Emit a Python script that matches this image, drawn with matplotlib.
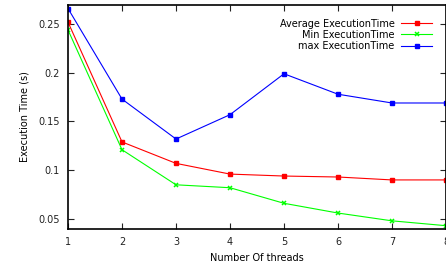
import matplotlib
matplotlib.use("Agg")
import matplotlib.pyplot as plt

threads = [1, 2, 3, 4, 5, 6, 7, 8]
avg_time = [0.252, 0.129, 0.107, 0.096, 0.094, 0.093, 0.090, 0.090]
min_time = [0.244, 0.121, 0.085, 0.082, 0.066, 0.056, 0.048, 0.043]
max_time = [0.266, 0.173, 0.132, 0.157, 0.199, 0.178, 0.169, 0.169]
y_ticks = [0.05, 0.1, 0.15, 0.2, 0.25]
y_labels = ["0.05", "0.1", "0.15", "0.2", "0.25"]

plt.rcParams["font.size"] = 7
fig = plt.figure(figsize=(4.46, 2.69), dpi=100)
ax = fig.add_axes([0.1525, 0.149, 0.8475, 0.832])

ax.plot(threads, avg_time, color="#ff0000", marker="s", markersize=3.2, lw=0.8,
        label="Average ExecutionTime")
ax.plot(threads, min_time, color="#00ff00", marker="x", markersize=3.5, mew=1.1, lw=0.8,
        label="Min ExecutionTime")
ax.plot(threads, max_time, color="#0000ff", marker="s", markersize=3.2, lw=0.8,
        label="max ExecutionTime")

ax.set_xlim(1, 8)
ax.set_ylim(0.0397, 0.2695)
ax.set_xticks(threads)
ax.set_yticks(y_ticks)
ax.set_yticklabels(y_labels)
ax.tick_params(direction="in", top=True, right=True, length=4, width=0.8, pad=6,
               colors="#222222")
for s in ax.spines.values():
    s.set_linewidth(1.2)

ax.set_xlabel("Number Of threads", labelpad=4)
ax.set_ylabel("Execution Time (s)", labelpad=6)

ax.legend(loc="upper right", frameon=False, markerfirst=False, handlelength=3.2,
          handletextpad=0.7, borderaxespad=1.0, labelspacing=0.12, fontsize=7)

fig.savefig("out.png", dpi=100)
